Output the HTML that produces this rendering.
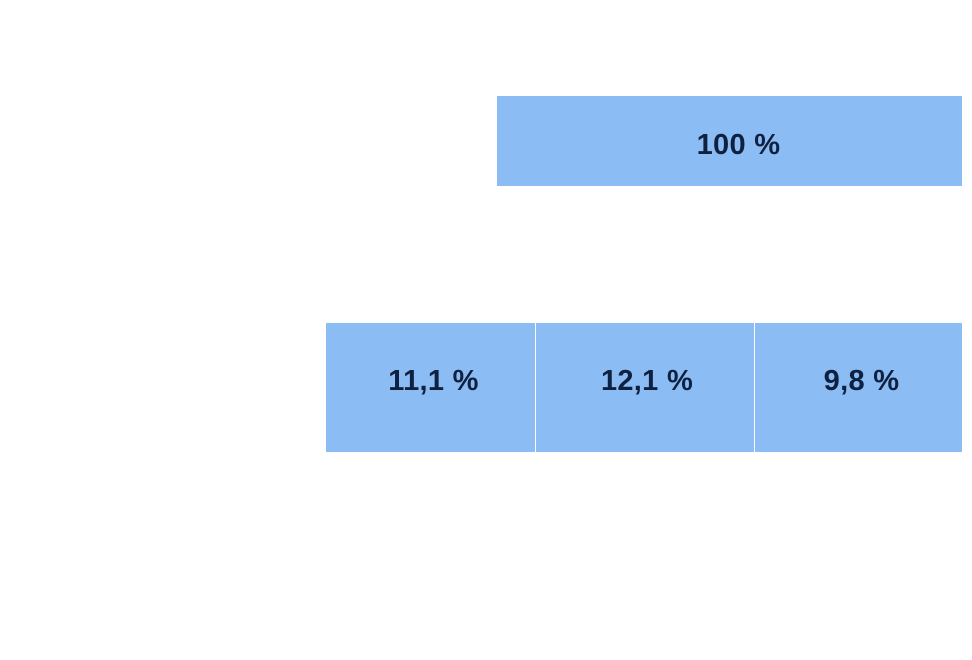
<!DOCTYPE html>
<html><head><meta charset="utf-8"><style>
html,body{margin:0;padding:0;background:#fff;width:972px;height:660px;overflow:hidden;position:relative}
.b{position:absolute;background:#8bbcf3;display:flex;align-items:center;justify-content:center;font-family:"Liberation Sans",sans-serif;font-weight:bold;font-size:29px;color:#0f2140;letter-spacing:0.3px;box-sizing:border-box}
</style></head><body>
<div class="b" style="left:497px;top:96px;width:465px;height:90px;padding-top:8px;padding-left:18px">100 %</div>
<div class="b" style="left:326px;top:323px;width:209px;height:129px;padding-bottom:12px;padding-left:6px">11,1 %</div>
<div class="b" style="left:536px;top:323px;width:218px;height:129px;padding-bottom:12px;padding-left:4px">12,1 %</div>
<div class="b" style="left:755px;top:323px;width:207px;height:129px;padding-bottom:12px;padding-left:6px">9,8 %</div>
</body></html>
